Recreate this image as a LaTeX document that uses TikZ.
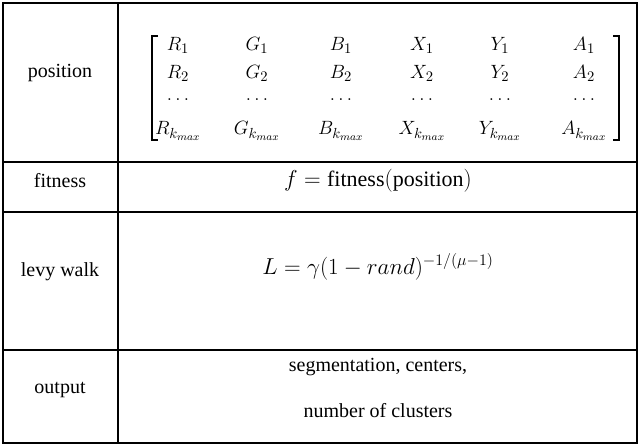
\documentclass[tikz,border=0pt]{standalone}
\usepackage{fontspec}
\setmainfont{Liberation Serif}
\begin{document}
\begin{tikzpicture}[x=0.75pt,y=-0.75pt,
  txt/.style={font=\fontsize{15}{17}\selectfont},
  mth/.style={font=\fontsize{16.5}{18}\selectfont},
  ent/.style={font=\fontsize{15.5}{17}\selectfont,inner sep=0pt}]
\useasboundingbox (0,0) rectangle (640,446);
\draw[line width=0.8pt] (3,3) rectangle (637,443);
\draw[line width=0.8pt] (118,3) -- (118,443);
\foreach \y in {162,212,350} \draw[line width=0.8pt] (3,\y) -- (637,\y);
\node[txt] (l1) at (60,73) {position};
\node[txt] (l2) at (60,181) {fitness};
\node[txt] (l3) at (60,272) {levy walk};
\node[txt] (l4) at (60,390) {output};
% matrix
\draw[line width=0.8pt] (158,36) -- (152,36) -- (152,140) -- (158,140);
\draw[line width=0.8pt] (613,36) -- (619,36) -- (619,140) -- (613,140);
\foreach \c/\x in {R/178,G/257,B/341,X/422,Y/500,A/584}{
  \node[ent] at (\x,45) {$\c_1$};
  \node[ent] at (\x,73) {$\c_2$};
  \node[ent] at (\x,100) {$\ldots$};
  \node[ent] at (\x,131) {$\c_{k_{max}}$};
}
\node[mth] (f) at (378,181) {$f=\mathrm{fitness}(\mathrm{position})$};
\node[mth] (lw) at (378,267) {$L=\gamma(1-rand)^{-1/(\mu-1)}$};
\node[txt] (o1) at (378,367) {segmentation, centers,};
\node[txt] (o2) at (378,411) {number of clusters};
\end{tikzpicture}
\end{document}
